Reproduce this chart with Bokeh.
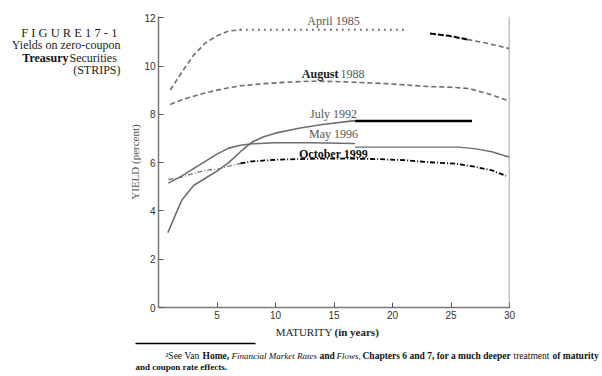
import math
from bokeh.plotting import figure
from bokeh.models import Label, Span, FixedTicker, Range1d
from bokeh.layouts import column, row
from bokeh.core.properties import value
from bokeh.embed import file_html
from bokeh.resources import INLINE

# ---- data (maturity in years, yield in percent) ----
apr85_a_x = [1, 2, 3, 4, 5, 6, 7]
apr85_a_y = [9.0, 9.75, 10.45, 10.95, 11.25, 11.45, 11.5]
apr85_b_x = [7, 21.3]
apr85_b_y = [11.5, 11.5]
apr85_c_x = [23.2, 24.8, 26.4]
apr85_c_y = [11.35, 11.25, 11.1]
apr85_d_x = [26.4, 28, 30]
apr85_d_y = [11.1, 10.95, 10.72]

aug88_x = [1, 2, 3, 4, 5, 6, 7, 9, 11, 13, 15, 17, 19, 21, 23, 25, 26.5, 28, 30]
aug88_y = [8.41, 8.6, 8.75, 8.88, 9.0, 9.1, 9.18, 9.27, 9.33, 9.37, 9.36, 9.32, 9.28, 9.22, 9.15, 9.12, 9.07, 8.88, 8.55]

jul92_a_x = [0.8, 1.5, 2, 3, 4, 5, 6, 7, 8, 9, 10, 12, 14, 16.8]
jul92_a_y = [3.1, 3.9, 4.45, 5.05, 5.35, 5.65, 6.0, 6.45, 6.85, 7.07, 7.22, 7.42, 7.58, 7.74]
jul92_b_x = [16.8, 26.8]
jul92_b_y = [7.72, 7.72]

may96_a_x = [0.85, 2, 3, 4, 5, 6, 7, 8, 10, 13, 16.8]
may96_a_y = [5.15, 5.45, 5.75, 6.05, 6.35, 6.6, 6.72, 6.78, 6.82, 6.82, 6.79]
may96_b_x = [16.8, 25.6, 27, 28.5, 30]
may96_b_y = [6.64, 6.64, 6.58, 6.45, 6.22]

oct99_a_x = [0.85, 2, 3, 4, 5, 6, 7]
oct99_a_y = [5.3, 5.4, 5.55, 5.68, 5.72, 5.85, 5.97]
oct99_b_x = [7, 8, 10, 13, 16, 19, 21, 23, 25.5, 27, 28.5, 29.7]
oct99_b_y = [5.97, 6.05, 6.12, 6.16, 6.17, 6.14, 6.1, 6.02, 5.95, 5.83, 5.68, 5.45]

x_ticks = [5, 10, 15, 20, 25, 30]
y_ticks = [0, 2, 4, 6, 8, 10, 12]

SERIF = "Liberation Serif"
SANS = "Liberation Sans"

W, H = 602, 376
LEFT_W = 125          # caption panel width
TOP_H = 324           # height of the chart row
FL, FB = 158, 307     # frame left / bottom in page pixels


def text_panel(w, h, x0, y0):
    """A figure whose data coordinates equal page pixels (y downward)."""
    f = figure(width=w, height=h, output_backend="svg", toolbar_location=None,
               x_range=Range1d(x0, x0 + w), y_range=Range1d(y0 + h, y0),
               min_border=0, min_border_left=0, min_border_right=0,
               min_border_top=0, min_border_bottom=0)
    f.axis.visible = False
    f.grid.visible = False
    f.outline_line_color = None
    f.background_fill_color = "white"
    f.border_fill_color = "white"
    return f


def ptext(f, txt, x, y, size="12px", style="normal", color="#222222", align="left", font=SERIF):
    f.text(x=[x], y=[y], text=[txt], text_font=value(font), text_font_size=size,
           text_font_style=style, text_color=color, text_align=align,
           text_baseline="middle")


# ---------------- main chart ----------------
p = figure(width=W - LEFT_W, height=TOP_H, output_backend="svg", toolbar_location=None,
           x_range=Range1d(0, 30), y_range=Range1d(0, 12.05),
           min_border_left=FL - LEFT_W, min_border_right=W - 509,
           min_border_top=16, min_border_bottom=TOP_H - FB)
p.outline_line_color = None
p.grid.visible = False
p.background_fill_color = "white"
p.border_fill_color = "white"

for ax in (p.xaxis[0], p.yaxis[0]):
    ax.axis_line_color = "#7a7a7a"
    ax.axis_line_width = 1.5
    ax.major_tick_line_color = "#555555"
    ax.major_tick_in = 5
    ax.major_tick_out = 0
    ax.minor_tick_line_color = None
    ax.major_label_text_font = SANS
    ax.major_label_text_font_size = "10px"
    ax.major_label_text_color = "#333333"
p.xaxis.ticker = FixedTicker(ticks=x_ticks)
p.yaxis.ticker = FixedTicker(ticks=y_ticks)
p.xaxis.major_label_standoff = 3
p.yaxis.major_label_standoff = 3
p.yaxis.axis_label = "YIELD (percent)"
p.yaxis.axis_label_text_font = SERIF
p.yaxis.axis_label_text_font_style = "normal"
p.yaxis.axis_label_text_font_size = "11px"
p.yaxis.axis_label_text_color = "#555555"
p.yaxis.axis_label_standoff = 0

p.add_layout(Span(location=30, dimension="height", line_color="#8a8a8a", line_width=1.5))

GRAY = "#6e6e6e"
# April 1985
p.line(apr85_a_x, apr85_a_y, line_color=GRAY, line_width=1.6, line_dash="5 3")
p.line(apr85_b_x, apr85_b_y, line_color="black", line_width=2, line_dash="1 5")
p.line(apr85_c_x, apr85_c_y, line_color="black", line_width=2, line_dash="6 2")
p.line(apr85_d_x, apr85_d_y, line_color=GRAY, line_width=1.6, line_dash="5 3")
# August 1988
p.line(aug88_x, aug88_y, line_color=GRAY, line_width=1.6, line_dash="5 3")
# July 1992
p.line(jul92_a_x, jul92_a_y, line_color=GRAY, line_width=1.6)
p.line(jul92_b_x, jul92_b_y, line_color="black", line_width=2.5)
# May 1996
p.line(may96_a_x, may96_a_y, line_color=GRAY, line_width=1.6)
p.line(may96_b_x, may96_b_y, line_color=GRAY, line_width=1.4)
# October 1999
p.line(oct99_a_x, oct99_a_y, line_color="#777777", line_width=1.3, line_dash="5 2 1 2")
p.line(oct99_b_x, oct99_b_y, line_color="black", line_width=1.8, line_dash="5 2 1 2")


def lab(text, px, py, size="12px", style="normal", color="#444444", align="center"):
    p.add_layout(Label(x=px - FL, y=FB - py, x_units="screen", y_units="screen",
                       text=text, text_font=SERIF, text_font_size=size,
                       text_font_style=style, text_color=color, text_align=align,
                       text_baseline="middle"))


lab("April 1985", 333, 20, color="#555555")
lab("August", 338, 73, style="bold", color="#222222", align="right")
lab("1988", 340, 73, color="#555555", align="left")
lab("July 1992", 333, 113, color="#555555")
lab("May 1996", 333, 133, color="#555555")
lab("October 1999", 333, 153, style="bold", color="#111111")

# ---------------- caption panel ----------------
cap = text_panel(LEFT_W, TOP_H, 0, 0)
ptext(cap, "F I G U R E  1 7 - 1", 120, 18, size="12.5px", color="#222222", align="right")
ptext(cap, "Yields on zero-coupon", 120, 32, align="right")
ptext(cap, "Treasury", 68, 46, style="bold", color="#111111", align="right")
ptext(cap, "Securities", 69, 46, align="left")
ptext(cap, "(STRIPS)", 120, 60, align="right")

# ---------------- bottom panel: x title + footnote ----------------
foot = text_panel(W, H - TOP_H, 0, TOP_H)
ptext(foot, "MATURITY", 332, 331, size="11px", align="right")
ptext(foot, "(in years)", 334, 331, size="11px", style="bold", align="left")
foot.segment(x0=[135], y0=[343], x1=[255], y1=[343], line_color="black", line_width=1.5)

foot_parts = [
    ("\u00b2See", 165, "normal", "9.5px"),
    ("Van", 184, "normal", "9.5px"),
    ("Home,", 202, "bold", "9.5px"),
    ("Financial Market Rates", 231, "italic", "9px"),
    ("and", 319, "bold", "9.5px"),
    ("Flows,", 336, "italic", "9px"),
    ("Chapters 6 and  7, for a much deeper", 362, "bold", "9.5px"),
    ("treatment", 513, "normal", "9.5px"),
    ("of maturity", 552, "bold", "9.5px"),
]
for t, x, st, fs in foot_parts:
    ptext(foot, t, x, 355, size=fs, style=st, color="#111111")
ptext(foot, "and coupon rate effects.", 135, 366, size="9px", style="bold", color="#111111")

layout = column(row(cap, p), foot)
open("out.html", "w").write(file_html(layout, INLINE))
